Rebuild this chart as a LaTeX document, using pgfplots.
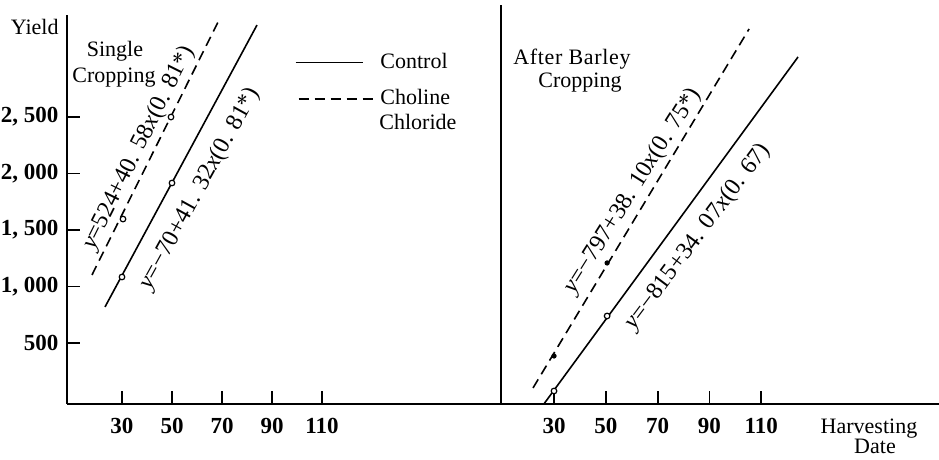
\documentclass[border=0pt]{standalone}
\usepackage{fontspec}
\setmainfont{Liberation Serif}
\usepackage{pgfplots}
\pgfplotsset{compat=1.18}
\begin{document}
\fontsize{11}{13}\selectfont
\begin{tikzpicture}[font=\fontsize{11}{13}\selectfont]
\useasboundingbox (0,0) rectangle (469.5pt,230pt);
\pgfplotsset{
  panel/.style={
    scale only axis, clip=false,
    axis lines*=left,
    axis line style={line width=1pt, black},
    ymin=-40,
    tick align=inside,
    major tick length=6.5pt,
    tick style={line width=0.9pt, black},
    xtick={30,50,70,90,110},
    xticklabels={30,50,70,90,110},
    xticklabel style={font=\fontsize{11.5}{13}\selectfont\bfseries, yshift=-3pt},
  },
  ctrl/.style={black, line width=0.8pt},
  chol/.style={black, line width=0.8pt, dash pattern=on 5pt off 3pt},
  ctrlleg/.style={legend image code/.code={\draw[##1] (0pt,3pt) -- (33.5pt,3pt);}},
  cholleg/.style={legend image code/.code={\draw[##1] (1.5pt,3pt) -- (40pt,3pt);}},
  omark/.style={only marks, mark=*, mark size=1.4pt, mark options={fill=white, draw=black, line width=0.6pt, solid}, forget plot},
  dmark/.style={only marks, mark=*, mark size=1.1pt, mark options={fill=black, draw=black, solid}, forget plot},
}
% Left panel: single cropping
\begin{axis}[panel, at={(33.5pt,28pt)}, anchor=south west,
  width=217pt, height=194.5pt, xmin=8, xmax=181.6, ymax=3403,
  ytick={500,1000,1500,2000,2500},
  yticklabels={500,{1, 000},{1, 500},{2, 000},{2, 500}},
  yticklabel style={font=\fontsize{11.5}{13}\selectfont\bfseries, xshift=-0.5pt},
  legend style={draw=none, fill=none, at={(0.525,0.902)}, anchor=north west,
    inner sep=0pt, outer sep=0pt,
    cells={anchor=base west}, row sep=9pt, column sep=0pt,
    nodes={inner ysep=0pt, inner xsep=2pt},
    font=\fontsize{11}{13}\selectfont},
]
\addplot[ctrl, ctrlleg] coordinates {(23.2,819) (84,3314)};
\addlegendentry{Control}
\addplot[chol, cholleg] coordinates {(18,1102) (69.2,3376)};
\addlegendentry{Choline}
\addplot[omark] coordinates {(30,1084) (50,1916)};
\addplot[omark] coordinates {(30.4,1597) (49.6,2500)};
\end{axis}
% Right panel: after barley cropping
\begin{axis}[panel, at={(250.5pt,28pt)}, anchor=south west,
  width=219pt, height=199.5pt, xmin=9.54, xmax=178.6, ymax=3491,
  ytick=\empty,
]
\addplot[ctrl] coordinates {(26.1,-40) (124.2,3031)};
\addplot[chol] coordinates {(21.9,102) (105.3,3279)};
\addplot[omark] coordinates {(30,75) (50.5,739)};
\addplot[dmark] coordinates {(30,385) (50.5,1208)};
\end{axis}
\begin{scope}[x=0.5pt, y=-0.5pt, yshift=230pt]
\node[anchor=base east, inner sep=0] at (59,35) {Yield};
\node[anchor=base, inner sep=0] at (115,57) {Single};
\node[anchor=base, inner sep=0] at (114,83) {Cropping};
\node[anchor=base west, inner sep=0] at (379,130) {Chloride};
\node[anchor=base, inner sep=0] at (572,65) {\addfontfeature{LetterSpace=3}After Barley};
\node[anchor=base, inner sep=0] at (580,88) {Cropping};
\node[anchor=base, inner sep=0] at (869,434) {Harvesting};
\node[anchor=base, inner sep=0] at (875,454) {Date};
\begin{scope}[every node/.style={inner sep=0, font=\fontsize{12}{14}\selectfont}]
\node[rotate=63.5] at (139,148) {\textit{y}=524+40. 58\textit{x}(0. 81*)};
\node[rotate=61.1] at (200,189) {\textit{y}=−70+41. 32\textit{x}(0. 81*)};
\node[rotate=57.9] at (633,191) {\textit{y}=−797+38. 10\textit{x}(0. 75*)};
\node[rotate=53.2] at (698,237) {\textit{y}=−815+34. 07\textit{x}(0. 67)};
\end{scope}
\end{scope}
\end{tikzpicture}
\end{document}
